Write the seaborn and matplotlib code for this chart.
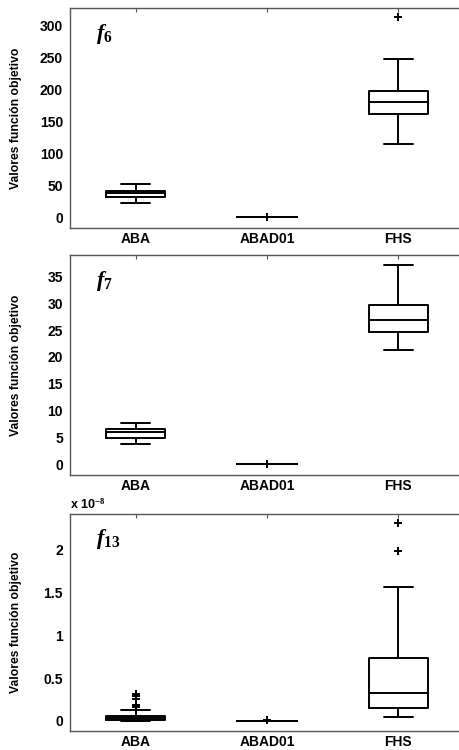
# Boxplots of objective function values for f6, f7 and f13
import matplotlib
matplotlib.use('Agg')
import numpy as np
import pandas as pd
import matplotlib.pyplot as plt
import seaborn as sns
from matplotlib import font_manager

# Categories
algorithms = ['ABA', 'ABAD01', 'FHS']

# f6 samples
f6_aba = [22, 30, 31.5, 35, 37.5, 39, 41, 47, 51.5]
f6_abad01 = [0, 0, 0, 0, 0, 0, 0, 0, 0.5]
f6_fhs = [114, 150, 162.5, 172, 180, 189, 198, 248, 313.5]

# f7 samples
f7_aba = [3.7, 4.5, 4.95, 5.6, 6.1, 6.4, 6.65, 7.2, 7.65]
f7_abad01 = [0, 0, 0, 0, 0, 0, 0, 0, 0.05]
f7_fhs = [21.3, 23, 24.6, 25.5, 26.9, 28, 29.7, 33, 37.2]

# f13 samples (x 1e-8)
f13_aba = [0, 0, 0.001, 0.002, 0.002, 0.003, 0.004, 0.008, 0.012, 0.016, 0.02, 0.024,
           0.028, 0.032, 0.038, 0.043, 0.048, 0.052, 0.056, 0.12, 0.16, 0.18, 0.26, 0.29, 0.31]
f13_abad01 = [0, 0, 0, 0, 0, 0, 0, 0, 0.004]
f13_fhs = [0.042, 0.08, 0.12, 0.155, 0.2, 0.27, 0.33, 0.45, 0.6, 0.736, 1.57, 1.99, 2.32]

panels = [
    ('6', [f6_aba, f6_abad01, f6_fhs], (-17, 328), np.arange(0, 301, 50), None),
    ('7', [f7_aba, f7_abad01, f7_fhs], (-2, 39), np.arange(0, 36, 5), None),
    ('13', [f13_aba, f13_abad01, f13_fhs], (-0.12, 2.42), [0, 0.5, 1, 1.5, 2], ['0', '0.5', '1', '1.5', '2']),
]

sns.set_style('white')
plt.rcParams['font.family'] = ['Liberation Sans', 'DejaVu Sans']
plt.rcParams['text.color'] = 'black'
plt.rcParams['axes.labelcolor'] = 'black'
plt.rcParams['xtick.color'] = 'black'
plt.rcParams['ytick.color'] = 'black'
plt.rcParams['mathtext.fontset'] = 'custom'
plt.rcParams['mathtext.rm'] = 'Liberation Serif:bold'
plt.rcParams['mathtext.it'] = 'Liberation Serif:italic:bold'

# narrow font for the y label if there is one
names = {f.name for f in font_manager.fontManager.ttflist}
narrow = [n for n in ['Liberation Sans Narrow', 'DejaVu Sans Condensed'] if n in names]
ylab_family = narrow + ['Liberation Sans']
ylab_size = 9.5 if narrow else 8.7

fig = plt.figure(figsize=(4.6, 7.5), dpi=100)

# axes boxes in pixels: (top, bottom)
rows = [(8, 228), (255, 475), (514, 731)]
left, right = 70, 464

for (name, groups, ylim, yticks, yticklabels), (top, bottom) in zip(panels, rows):
    ax = fig.add_axes([left / 460, 1 - bottom / 750, (right - left) / 460, (bottom - top) / 750])
    df = pd.DataFrame({
        'alg': np.repeat(algorithms, [len(g) for g in groups]),
        'val': np.concatenate(groups),
    })
    sns.boxplot(data=df, x='alg', y='val', order=algorithms, ax=ax, fill=False,
                color='black', width=0.45, linewidth=1.4,
                flierprops=dict(marker='+', markersize=6, markeredgecolor='black',
                                markeredgewidth=1.4))
    ax.set_xlim(-0.5, 2.5)
    ax.set_ylim(*ylim)
    ax.set_yticks(yticks)
    if yticklabels is not None:
        ax.set_yticklabels(yticklabels)
    ax.set_xlabel('')
    ax.set_ylabel('Valores función objetivo', fontsize=ylab_size, fontweight='bold',
                  family=ylab_family)
    ax.yaxis.set_label_coords(-48 / (right - left), 0.5)
    ax.tick_params(direction='in', length=3, width=0.8, color='#555555',
                   labelcolor='black', top=True, right=True, labelsize=10, pad=5)
    ax.tick_params(axis='x', pad=3)
    for lab in ax.get_xticklabels() + ax.get_yticklabels():
        lab.set_fontweight('bold')
    for s in ax.spines.values():
        s.set_visible(True)
        s.set_color('#555555')
        s.set_linewidth(1.0)
    ax.text(0.065, 0.86, r'$f_{%s}$' % name, transform=ax.transAxes, fontsize=16,
            ha='left', va='baseline')
    if name == '13':
        ax.text(0.0, 1.012, r'x 10$^{-8}$', transform=ax.transAxes, fontsize=9,
                fontweight='bold', ha='left', va='bottom')

plt.savefig('out.png', dpi=100)
